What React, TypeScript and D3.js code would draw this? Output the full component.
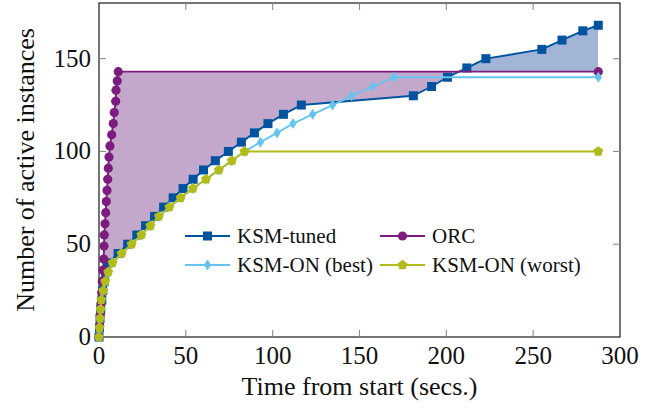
import React from "react";
import * as d3 from "d3";

// time (s) and number of active instances
const tunedTime = [0, 0.3, 0.6, 1, 1.6, 2.2, 3, 3.8, 5.5, 11, 16.5, 21.8, 26.8, 32, 37.2, 42.7, 48.4, 54.2, 60.2, 67, 74.5, 82, 89.5, 97.3, 106.2, 116.5, 181, 191.5, 200.7, 211.8, 222.8, 255, 266.6, 278.6, 287.5];
const tunedCount = [0, 5, 10, 15, 20, 25, 30, 35, 40, 45, 50, 55, 60, 65, 70, 75, 80, 85, 90, 95, 100, 105, 110, 115, 120, 125, 130, 135, 140, 145, 150, 155, 160, 165, 168];

const orcTime = [0, 0.4, 0.75, 1.15, 1.55, 1.9, 2.3, 2.7, 2.9, 3.05, 3.45, 3.85, 4.2, 4.6, 5, 5.35, 5.75, 6.3, 7.3, 8.2, 8.8, 9.6, 9.8, 10.5, 11.1, 287.5];
const orcCount = [0, 6, 12, 18, 24, 30, 36, 42, 49, 55, 61, 67, 73, 79, 85, 91, 97, 103, 109, 115, 121, 127, 133, 138, 143, 143];

const bestTime = [0, 0.3, 0.6, 0.9, 1.3, 2.4, 3.6, 5.3, 7.8, 13, 18.8, 24.4, 29.6, 34.5, 40.5, 47, 54, 61.6, 69, 76.5, 83.8, 93, 102.5, 111.7, 123, 134.5, 145.5, 157.6, 170, 287.5];
const bestCount = [0, 5, 10, 15, 20, 25, 30, 35, 40, 45, 50, 55, 60, 65, 70, 75, 80, 85, 90, 95, 100, 105, 110, 115, 120, 125, 130, 135, 140, 140];

const worstTime = [0, 0.3, 0.6, 0.9, 1.3, 2.4, 3.6, 5.3, 7.8, 13, 18.8, 24.4, 29.6, 34.5, 40.5, 47, 54, 61.6, 69, 76.5, 83.8, 287.5];
const worstCount = [0, 5, 10, 15, 20, 25, 30, 35, 40, 45, 50, 55, 60, 65, 70, 75, 80, 85, 90, 95, 100, 100];

const xTicks = [0, 50, 100, 150, 200, 250, 300];
const yTicks = [0, 50, 100, 150];

const W = 652;
const H = 408;
const FONT = "Liberation Serif, Times New Roman, DejaVu Serif, serif";

type Pt = [number, number];
const zip = (a: number[], b: number[]): Pt[] => a.map((v, i) => [v, b[i]]);

const x = d3.scaleLinear().domain([0, 300]).range([99, 620]);
const y = d3.scaleLinear().domain([0, 180]).range([337, 3]);

const line = d3.line<Pt>().x(d => x(d[0])).y(d => y(d[1]));
const under = d3.area<Pt>().x(d => x(d[0])).y0(y(0)).y1(d => y(d[1]));
const above = d3.area<Pt>().x(d => x(d[0])).y0(y(180)).y1(d => y(d[1]));

const square = "M-4.5,-4.5H4.5V4.5H-4.5Z";
const diamond = "M0,-5.5L3.6,0L0,5.5L-3.6,0Z";
const pentagon = (() => {
  const r = 5.2;
  const p = d3.range(5).map(i => {
    const a = -Math.PI / 2 + (i * 2 * Math.PI) / 5;
    return `${(r * Math.cos(a)).toFixed(2)},${(r * Math.sin(a)).toFixed(2)}`;
  });
  return "M" + p.join("L") + "Z";
})();

const series = [
  { name: "KSM-tuned", data: zip(tunedTime, tunedCount), color: "#00549f", mark: "square" },
  { name: "ORC", data: zip(orcTime, orcCount), color: "#7c1c7e", mark: "circle" },
  { name: "KSM-ON (best)", data: zip(bestTime, bestCount), color: "#66c4ef", mark: "diamond" },
  { name: "KSM-ON (worst)", data: zip(worstTime, worstCount), color: "#b2bb1c", mark: "pentagon" },
];

function Marker({ kind, color, cx, cy }: { kind: string; color: string; cx: number; cy: number }) {
  if (kind === "circle") return <circle cx={cx} cy={cy} r={4.6} fill={color} />;
  const d = kind === "square" ? square : kind === "diamond" ? diamond : pentagon;
  return <path d={d} transform={`translate(${cx},${cy})`} fill={color} />;
}

export default function App() {
  const tuned = series[0].data;
  const orc = series[1].data;
  const legendPos = [
    [185, 236],
    [380, 236],
    [185, 265],
    [380, 265],
  ];

  return (
    <svg width={W} height={H} style={{ position: "absolute", left: 0, top: 0, background: "#fff", fontFamily: FONT }}>
      <defs>
        <clipPath id="aboveTuned">
          <path d={above(tuned) || ""} />
        </clipPath>
        <clipPath id="aboveOrc">
          <path d={above(orc) || ""} />
        </clipPath>
      </defs>

      {/* fill between ORC and KSM-tuned */}
      <path d={under(orc) || ""} fill="#c4a8cc" clipPath="url(#aboveTuned)" />
      <path d={under(tuned) || ""} fill="#a3b5d6" clipPath="url(#aboveOrc)" />

      {/* frame + ticks */}
      <rect x={x(0)} y={y(180)} width={x(300) - x(0)} height={y(0) - y(180)} fill="none" stroke="#1a1a1a" strokeWidth={1.2} />
      {xTicks.slice(1, -1).map(t => (
        <g key={"xt" + t} stroke="#8c8c8c" strokeWidth={1.1}>
          <line x1={x(t)} x2={x(t)} y1={y(0)} y2={y(0) - 7} />
          <line x1={x(t)} x2={x(t)} y1={y(180)} y2={y(180) + 7} />
        </g>
      ))}
      {yTicks.slice(1).map(t => (
        <g key={"yt" + t} stroke="#8c8c8c" strokeWidth={1.1}>
          <line x1={x(0)} x2={x(0) + 7} y1={y(t)} y2={y(t)} />
          <line x1={x(300)} x2={x(300) - 7} y1={y(t)} y2={y(t)} />
        </g>
      ))}

      {/* series */}
      {series.map(s => (
        <g key={s.name}>
          <path d={line(s.data) || ""} fill="none" stroke={s.color} strokeWidth={1.9} strokeLinejoin="round" />
          {s.data.map((d, i) => (
            <Marker key={i} kind={s.mark} color={s.color} cx={x(d[0])} cy={y(d[1])} />
          ))}
        </g>
      ))}

      {/* tick labels */}
      {xTicks.map(t => (
        <text key={"xl" + t} x={x(t)} y={364} textAnchor="middle" fontSize={25} fill="#111">
          {t}
        </text>
      ))}
      {yTicks.map(t => (
        <text key={"yl" + t} x={91} y={y(t) + 8} textAnchor="end" fontSize={25} fill="#111">
          {t}
        </text>
      ))}

      <text x={x(150)} y={395} textAnchor="middle" fontSize={26} fill="#111">
        Time from start (secs.)
      </text>
      <text transform={`translate(34,${(y(0) + y(180)) / 2}) rotate(-90)`} textAnchor="middle" fontSize={26} fill="#111">
        Number of active instances
      </text>

      {/* legend */}
      {series.map((s, i) => {
        const [lx, ly] = legendPos[i];
        return (
          <g key={"lg" + s.name}>
            <line x1={lx} x2={lx + 45} y1={ly} y2={ly} stroke={s.color} strokeWidth={1.9} />
            <Marker kind={s.mark} color={s.color} cx={lx + 22.5} cy={ly} />
            <text x={lx + 52} y={ly + 7} fontSize={21} fill="#111">
              {s.name}
            </text>
          </g>
        );
      })}
    </svg>
  );
}
